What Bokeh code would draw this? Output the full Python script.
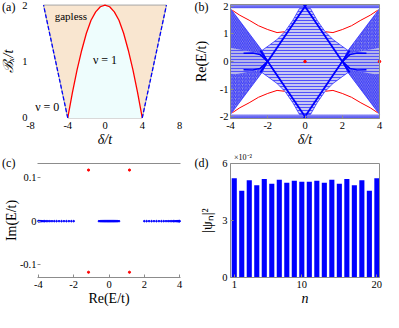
from bokeh.plotting import figure
from bokeh.layouts import column, row
from bokeh.models import Label, FixedTicker, LinearAxis
from bokeh.embed import file_html
from bokeh.resources import INLINE

FONT = "Liberation Serif"
TICK_FS = "10.5px"
LAB_FS = "14px"
GRAY = "#8c8c8c"
BLUE = "#0000ff"
RED = "#ff0000"
PEACH = "#f9e6d0"
CYAN = "#eefdfd"

# ======================= data =======================
# (a) phase diagram, B_x/t versus delta/t
a_red_delta = [-4.0, -3.5, -3.0, -2.5, -2.0, -1.5, -1.0, -0.5, 0.0,
               0.5, 1.0, 1.5, 2.0, 2.5, 3.0, 3.5, 4.0]
a_red_B = [0.0, 0.45, 0.85, 1.2, 1.5, 1.73, 1.88, 1.97, 2.0,
           1.97, 1.88, 1.73, 1.5, 1.2, 0.85, 0.45, 0.0]
a_gapless_delta = [-4.0, -6.6, 6.6, 4.0]
a_gapless_B = [0.0, 2.0, 2.0, 0.0]
a_dash_left_delta = [-4.0, -6.6]
a_dash_right_delta = [4.0, 6.6]
a_dash_B = [0.0, 2.0]
a_xlim = (-8.0, 8.0)
a_ylim = (-0.01, 2.01)
a_xticks = [-8, -4, 0, 4, 8]
a_xlabels = ["-8", "-4", "0", "4", "8"]
a_yticks = [0, 1, 2]
a_ylabels = ["0", "1", "2"]

# (b) Re(E/t) versus delta/t : outlines of the dense bulk-state regions
b_fan_ul_delta = [-4.0, -4.0, -2.31, -2.02]
b_fan_ul_E = [0.0, 1.92, 0.40, 0.0]
b_fan_ll_delta = [-4.0, -4.0, -2.31, -2.02]
b_fan_ll_E = [0.0, -1.92, -0.40, 0.0]
b_fan_ur_delta = [4.0, 4.0, 2.31, 2.02]
b_fan_ur_E = [0.0, 1.92, 0.40, 0.0]
b_fan_lr_delta = [4.0, 4.0, 2.31, 2.02]
b_fan_lr_E = [0.0, -1.92, -0.40, 0.0]
b_mid_l_delta = [-4.0, -2.6, -2.02, -2.6, -4.0]
b_mid_l_E = [0.5, 0.32, 0.0, -0.32, -0.5]
b_mid_r_delta = [4.0, 2.6, 2.02, 2.6, 4.0]
b_mid_r_E = [0.5, 0.32, 0.0, -0.32, -0.5]
b_core_delta = [-2.02, -2.31, -1.9, -1.5, -1.07, -0.65, -0.3, 0.3, 0.65, 1.07, 1.5, 1.9, 2.31,
                2.02, 2.31, 1.9, 1.5, 1.07, 0.65, 0.3, -0.3, -0.65, -1.07, -1.5, -1.9, -2.31]
b_core_E = [0.0, 0.40, 0.6, 0.8, 1.09, 1.5, 1.92, 1.92, 1.5, 1.09, 0.8, 0.6, 0.40,
            0.0, -0.40, -0.6, -0.8, -1.09, -1.5, -1.92, -1.92, -1.5, -1.09, -0.8, -0.6, -0.40]
b_band_left = [-4.0, -4.0]
b_band_right = [4.0, 4.0]
b_band_bottom = [1.93, -2.06]
b_band_top = [2.06, -1.93]
b_edge_xs = [[-2.4, 0.07], [2.4, -0.07], [-2.4, 0.07], [2.4, -0.07]]
b_edge_ys = [[-0.4, 2.07], [-0.4, 2.07], [0.4, -2.07], [0.4, -2.07]]
b_arm_xs = [[-3.3, -2.8, -2.4, -2.02], [-3.3, -2.8, -2.4, -2.02],
            [3.3, 2.8, 2.4, 2.02], [3.3, 2.8, 2.4, 2.02]]
b_arm_ys = [[0.30, 0.31, 0.25, 0.0], [-0.30, -0.31, -0.25, 0.0],
            [0.30, 0.31, 0.25, 0.0], [-0.30, -0.31, -0.25, 0.0]]
b_red_xs = [[-3.9, -3.5, -3.0, -2.5, -2.0, -1.5, -1.1],
            [3.9, 3.5, 3.0, 2.5, 2.0, 1.5, 1.1],
            [-3.9, -3.5, -3.0, -2.5, -2.0, -1.5, -1.1],
            [3.9, 3.5, 3.0, 2.5, 2.0, 1.5, 1.1]]
b_red_ys = [[1.86, 1.68, 1.50, 1.30, 1.16, 1.05, 1.08],
            [1.86, 1.68, 1.50, 1.30, 1.16, 1.05, 1.08],
            [-1.86, -1.68, -1.50, -1.30, -1.16, -1.05, -1.08],
            [-1.86, -1.68, -1.50, -1.30, -1.16, -1.05, -1.08]]
b_zero_delta = [0.0, 4.0]
b_zero_E = [0.0, 0.0]
b_xlim = (-4.0, 4.0)
b_ylim = (-2.07, 2.07)
b_xticks = [-4, -2, 0, 2, 4]
b_xlabels = ["-4", "-2", "0", "2", "4"]
b_yticks = [-2, -1, 0, 1, 2]
b_ylabels = ["-2", "-1", "0", "1", "2"]

# (c) complex spectrum
c_left_re = [-4.0, -3.98, -3.95, -3.91, -3.86, -3.8, -3.73, -3.65, -3.56, -3.46,
             -3.35, -3.23, -3.1, -2.97, -2.83, -2.69, -2.55, -2.41, -2.27, -2.13, -2.0]
c_mid_re = [-0.57, -0.5, -0.44, -0.38, -0.32, -0.26, -0.2, -0.14, -0.08, -0.03,
            0.03, 0.08, 0.14, 0.2, 0.26, 0.32, 0.38, 0.44, 0.5, 0.57]
c_right_re = [2.0, 2.13, 2.27, 2.41, 2.55, 2.69, 2.83, 2.97, 3.1, 3.23,
              3.35, 3.46, 3.56, 3.65, 3.73, 3.8, 3.86, 3.91, 3.95, 3.98, 4.0]
c_bulk_im = 0.0
c_red_re = [-1.16, 1.16, -1.16, 1.16]
c_red_im = [0.117, 0.117, -0.117, -0.117]
c_xlim = (-4.05, 4.05)
c_ylim = (-0.129, 0.132)
c_xticks = [-4, -2, 0, 2, 4]
c_xlabels = ["-4", "-2", "0", "2", "4"]
c_yticks = [-0.1, 0, 0.1]
c_ylabels = ["-0.1", "0", "0.1"]

# (d) zero-mode weight per site, in units of 1e-2
d_n = [1, 2, 3, 4, 5, 6, 7, 8, 9, 10, 11, 12, 13, 14, 15, 16, 17, 18, 19, 20]
d_prob_e2 = [5.22, 4.57, 5.12, 4.85, 5.19, 4.93, 5.14, 4.99, 5.09, 5.04,
             5.04, 5.09, 4.99, 5.14, 4.93, 5.19, 4.85, 5.12, 4.57, 5.22]
d_xlim = (0.5, 20.35)
d_ylim = (0.0, 6.0)
d_xticks = [1, 10, 20]
d_xlabels = ["1", "10", "20"]
d_yticks = [0, 3, 6]
d_ylabels = ["0", "3", "6"]


# ============================== helpers ==============================
def panel(W, H, box, xlim, ylim):
    """Figure whose frame is the whole canvas; the plot box sits at
    box = (left, right, top, bottom) pixels and shows xlim x ylim."""
    L, R, T, B = box
    kx = (xlim[1] - xlim[0]) / (R - L)
    ky = (ylim[1] - ylim[0]) / (B - T)
    xr = (xlim[0] - L * kx, xlim[1] + (W - R) * kx)
    yr = (ylim[0] - (H - B) * ky, ylim[1] + T * ky)
    p = figure(width=W, height=H, x_range=xr, y_range=yr,
               output_backend="svg", toolbar_location=None, title=None,
               x_axis_type=None, y_axis_type=None,
               min_border_left=0, min_border_right=0,
               min_border_top=0, min_border_bottom=0)
    p.grid.visible = False
    p.outline_line_color = None
    p.background_fill_color = "white"
    p.border_fill_color = "white"
    return p


def axis(p, side, loc, bounds, ticks=(), labels=(), label="", italic=False,
         line_color=None, tick_color=GRAY, tick_standoff=3, label_standoff=0):
    ax = LinearAxis(fixed_location=loc, bounds=bounds,
                    ticker=FixedTicker(ticks=list(ticks)))
    if ticks:
        ax.major_label_overrides = dict(zip(ticks, labels))
    ax.major_label_text_font = FONT
    ax.major_label_text_font_size = TICK_FS
    ax.major_label_text_color = "black"
    ax.major_label_standoff = tick_standoff
    ax.axis_label = label if label else None
    ax.axis_label_text_font = FONT
    ax.axis_label_text_font_size = LAB_FS
    ax.axis_label_text_font_style = "italic" if italic else "normal"
    ax.axis_label_text_color = "black"
    ax.axis_label_standoff = label_standoff
    ax.minor_tick_line_color = None
    ax.major_tick_in = 3
    ax.major_tick_out = 0
    ax.major_tick_line_color = tick_color
    ax.axis_line_color = line_color
    p.add_layout(ax, side)
    return ax


def tag(p, x, y, text, size="12px", baseline="middle", align="left", screen=True):
    units = "screen" if screen else "data"
    p.add_layout(Label(x=x, y=y, x_units=units, y_units=units, text=text,
                       text_font=FONT, text_font_size=size,
                       text_baseline=baseline, text_align=align,
                       text_color="black"))


# ============================== panel (a) ==============================
pa = panel(193, 150, (30, 179, 4, 118), a_xlim, a_ylim)
pa.patch(a_gapless_delta, a_gapless_B, fill_color=PEACH, line_color="#a6a6a6", line_width=1)
pa.patch(a_red_delta, a_red_B, fill_color=CYAN, line_color=None)
pa.line(a_red_delta, a_red_B, line_color=RED, line_width=1.3)
pa.line(a_dash_left_delta, a_dash_B, line_color=BLUE, line_width=1.3, line_dash="4 2")
pa.line(a_dash_right_delta, a_dash_B, line_color=BLUE, line_width=1.3, line_dash="4 2")
axis(pa, "below", a_ylim[0], a_xlim, a_xticks, a_xlabels, "δ/t", True, tick_color=None)
axis(pa, "left", a_xlim[0], a_ylim, a_yticks, a_ylabels, "ℬₓ/t", True, tick_color=None,
     label_standoff=3)
tag(pa, 1.6, 143.8, "(a)")
tag(pa, -5.4, 1.81, "gapless", size="11px", screen=False)
tag(pa, 0.0, 1.02, "ν = 1", size="12px", align="center", screen=False)
tag(pa, -6.2, 0.2, "ν = 0", size="12px", align="center", screen=False)

# ============================== panel (b) ==============================
pb = panel(190, 150, (37, 186, 4, 118), b_xlim, b_ylim)
fan_style = dict(fill_color="#8e8ee8", line_color=None, hatch_color="#2c2cff",
                 hatch_scale=3.5, hatch_weight=0.9)
pb.patch(b_fan_ul_delta, b_fan_ul_E, hatch_pattern="left_diagonal_line", **fan_style)
pb.patch(b_fan_ll_delta, b_fan_ll_E, hatch_pattern="right_diagonal_line", **fan_style)
pb.patch(b_fan_ur_delta, b_fan_ur_E, hatch_pattern="right_diagonal_line", **fan_style)
pb.patch(b_fan_lr_delta, b_fan_lr_E, hatch_pattern="left_diagonal_line", **fan_style)
mid_style = dict(fill_color="#b4b4ea", line_color=None, hatch_pattern="horizontal_line",
                 hatch_color="#3a3aff", hatch_scale=3, hatch_weight=0.8)
pb.patch(b_mid_l_delta, b_mid_l_E, **mid_style)
pb.patch(b_mid_r_delta, b_mid_r_E, **mid_style)
pb.patch(b_core_delta, b_core_E, fill_color="#c8c8f2", line_color=None,
         hatch_pattern="horizontal_line", hatch_color="#3434ff", hatch_scale=3,
         hatch_weight=0.8)
pb.quad(left=b_band_left, right=b_band_right, bottom=b_band_bottom, top=b_band_top,
        fill_color="#8080f0", line_color=None, hatch_pattern="horizontal_line",
        hatch_color="#1e1eff", hatch_scale=2.5, hatch_weight=0.8)
pb.patch(b_core_delta, b_core_E, fill_color=None, line_color="#3030ff", line_width=0.8)
for fx, fy in ((b_fan_ul_delta, b_fan_ul_E), (b_fan_ll_delta, b_fan_ll_E),
               (b_fan_ur_delta, b_fan_ur_E), (b_fan_lr_delta, b_fan_lr_E)):
    pb.line(fx, fy, line_color="#3030ff", line_width=0.8)
pb.multi_line(b_edge_xs, b_edge_ys, line_color=BLUE, line_width=1.8)
pb.multi_line(b_arm_xs, b_arm_ys, line_color=BLUE, line_width=1.5)
pb.multi_line(b_red_xs, b_red_ys, line_color=RED, line_width=1.0)
pb.scatter(b_zero_delta, b_zero_E, size=2.5, color=RED)
axis(pb, "below", b_ylim[0], b_xlim, b_xticks, b_xlabels, "δ/t", True, line_color=GRAY)
axis(pb, "left", b_xlim[0], b_ylim, b_yticks, b_ylabels, "Re(E/t)", False,
     line_color=GRAY, tick_standoff=2, label_standoff=8)
axis(pb, "above", b_ylim[1], b_xlim, line_color=GRAY)
axis(pb, "right", b_xlim[1], b_ylim, line_color=GRAY)
tag(pb, 1.0, 143.8, "(b)")

# ============================== panel (c) ==============================
pc = panel(193, 162, (37, 180, 13, 127), c_xlim, c_ylim)
pc.scatter(c_left_re, [c_bulk_im] * len(c_left_re), size=1.6, color=BLUE)
pc.scatter(c_mid_re, [c_bulk_im] * len(c_mid_re), size=1.6, color=BLUE)
pc.scatter(c_right_re, [c_bulk_im] * len(c_right_re), size=1.6, color=BLUE)
pc.scatter(c_red_re, c_red_im, size=2.2, color=RED)
axis(pc, "below", c_ylim[0], c_xlim, c_xticks, c_xlabels, "Re(E/t)", False,
     line_color=GRAY)
axis(pc, "left", c_xlim[0], c_ylim, c_yticks, c_ylabels, "Im(E/t)", False,
     tick_standoff=1, label_standoff=-2)
axis(pc, "above", c_ylim[1], c_xlim, line_color=GRAY)
tag(pc, 1.6, 149.4, "(c)")

# ============================== panel (d) ==============================
pD = panel(190, 162, (37, 186, 13, 127), d_xlim, d_ylim)
pD.vbar(x=d_n, top=d_prob_e2, bottom=0, width=0.68, fill_color=BLUE, line_color=None)
axis(pD, "below", d_ylim[0], d_xlim, d_xticks, d_xlabels, "n", True, line_color=GRAY)
axis(pD, "left", d_xlim[0], d_ylim, d_yticks, d_ylabels, "|ψₙ|²", False,
     line_color=GRAY, label_standoff=4)
axis(pD, "above", d_ylim[1], d_xlim, line_color=GRAY)
axis(pD, "right", d_xlim[1], d_ylim, line_color=GRAY)
tag(pD, 1.0, 149.4, "(d)")
tag(pD, 40.5, 150.5, "×10⁻²", size="8px", baseline="bottom")

layout = column(row(pa, pb), row(pc, pD))
open("out.html", "w").write(file_html(layout, INLINE))
